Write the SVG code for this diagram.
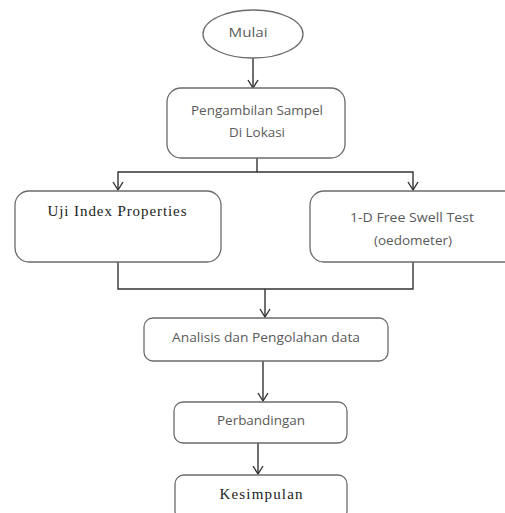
<svg xmlns="http://www.w3.org/2000/svg" width="505" height="513" viewBox="0 0 505 513">
<defs>
<style>
.box{fill:#fff;stroke:#6b6b6b;stroke-width:1.3}
.line{fill:none;stroke:#333;stroke-width:1.4}
.sans{font-family:"Open Sans","Noto Sans","Liberation Sans",sans-serif;font-size:13px;fill:#5a5a5a;text-anchor:middle}
.serif{font-family:"Liberation Serif","Times New Roman",serif;font-size:15px;fill:#222;text-anchor:middle}
</style>
</defs>
<rect width="505" height="513" fill="#fff"/>
<g id="connectors">
<path class="line" d="M253,58 V87"/>
<path class="line" d="M257,158 V172 H118 V190"/>
<path class="line" d="M257,172 H413 V190"/>
<path class="line" d="M118,262 V289 H413 V262"/>
<path class="line" d="M265,289 V317"/>
<path class="line" d="M263,361 V400"/>
<path class="line" d="M258,443 V474"/>
<path class="line" d="M248,80 L253,88 L258,80"/>
<path class="line" d="M113,182 L118,190 L123,182"/>
<path class="line" d="M408,182 L413,190 L418,182"/>
<path class="line" d="M260,309 L265,317 L270,309"/>
<path class="line" d="M258,393 L263,401 L268,393"/>
<path class="line" d="M253,466 L258,474 L263,466"/>
</g>
<g id="mulai">
<ellipse class="box" cx="253" cy="34" rx="50" ry="24"/>
<text class="sans" x="248" y="37" textLength="39" lengthAdjust="spacingAndGlyphs">Mulai</text>
</g>
<g id="pengambilan">
<rect class="box" x="167" y="88" width="178" height="70" rx="14"/>
<text class="sans" x="257" y="115" textLength="132" lengthAdjust="spacingAndGlyphs">Pengambilan Sampel</text>
<text class="sans" x="257" y="137" textLength="56" lengthAdjust="spacingAndGlyphs">Di Lokasi</text>
</g>
<g id="uji">
<rect class="box" x="15" y="191" width="206" height="71" rx="14"/>
<text class="serif" x="117" y="216" textLength="139" lengthAdjust="spacing">Uji Index Properties</text>
</g>
<g id="freeswell">
<rect class="box" x="310" y="191" width="210" height="71" rx="14"/>
<text class="sans" x="412" y="222" textLength="124" lengthAdjust="spacingAndGlyphs">1-D Free Swell Test</text>
<text class="sans" x="413" y="245" textLength="78" lengthAdjust="spacingAndGlyphs">(oedometer)</text>
</g>
<g id="analisis">
<rect class="box" x="144" y="318" width="244" height="43" rx="9"/>
<text class="sans" x="266" y="342" textLength="188" lengthAdjust="spacingAndGlyphs">Analisis dan Pengolahan data</text>
</g>
<g id="perbandingan">
<rect class="box" x="174" y="402" width="173" height="41" rx="9"/>
<text class="sans" x="261" y="425" textLength="88" lengthAdjust="spacingAndGlyphs">Perbandingan</text>
</g>
<g id="kesimpulan">
<rect class="box" x="175" y="475" width="172" height="45" rx="9"/>
<text class="serif" x="261" y="499" textLength="83" lengthAdjust="spacing">Kesimpulan</text>
</g>
</svg>
